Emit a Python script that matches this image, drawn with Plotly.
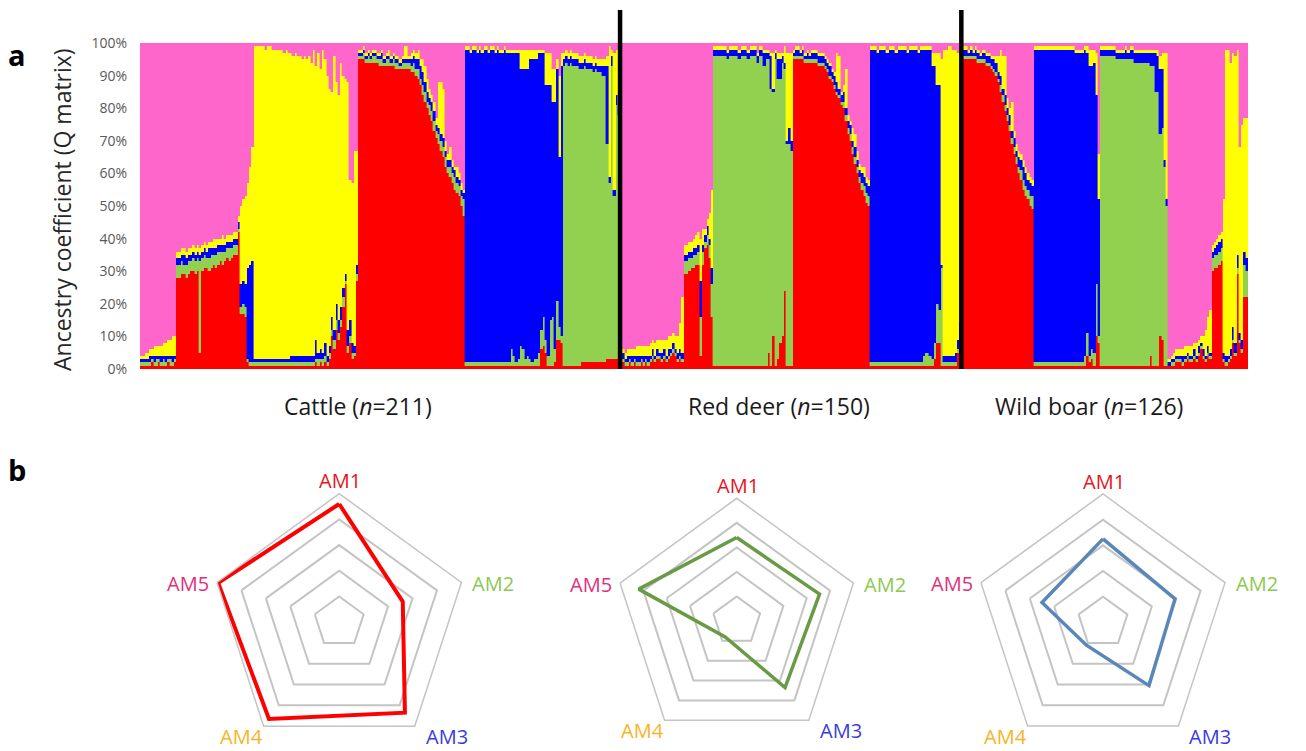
import numpy as np
import plotly.graph_objects as go

# ---------------- Panel a: ancestry coefficients (%) per individual ----------------
# Stack order from the bottom: AM1 (red), AM2 (green), AM3 (blue), AM4 (yellow);
# AM5 (pink) fills each bar up to 100 %.
groups = ["Cattle", "Red deer", "Wild boar"]
group_sizes = [211, 150, 126]

cattle_am1 = [
    1, 1, 1, 1, 1, 2, 1, 1, 2, 1, 1, 1, 2, 1, 1, 2,
    28, 28, 29, 29, 28, 29, 30, 30, 29, 30, 5, 30, 31, 31, 30, 31, 32, 31, 32, 33, 32, 33, 34, 33, 34, 35, 35,
    42, 17, 17, 16, 2, 1, 1,
    1, 1, 1, 1, 1, 1, 1, 1, 1, 1, 1, 1, 1, 1, 1, 1, 1, 1, 1, 1, 1, 1, 1, 1, 1, 1,
    1, 2, 1, 2, 1, 2, 1, 3, 10, 6, 12, 9, 13, 19, 26, 5, 8, 3, 4, 27,
    95, 95, 95, 94, 94, 94, 94, 94, 94, 93, 93, 93, 93, 93, 93, 93, 92, 92, 92, 92,
    92, 92, 92, 91, 91, 90, 89, 87, 84, 82, 80, 78, 76, 73, 71, 69, 67, 65, 62, 60,
    59, 57, 55, 54, 53, 50, 47,
    1, 1, 1, 1, 1, 1, 1, 1, 1, 1, 1, 1, 1, 1, 1, 1, 1, 1, 1, 1, 1, 1, 1, 1, 1, 1, 1, 1, 1, 1, 1, 1,
    1, 6, 7, 5, 1, 1, 1, 2, 9, 9, 8,
    1, 1, 1, 1, 1, 1, 1, 1, 2, 2, 2, 2, 2, 2, 2, 2, 2, 2, 2, 3, 3, 3, 3, 3, 26,
]
cattle_am2 = [
    1, 1, 1, 1, 1, 1, 1, 2, 1, 1, 2, 1, 1, 2, 1, 1,
    4, 4, 4, 3, 4, 4, 3, 4, 4, 4, 28, 4, 4, 3, 4, 4, 3, 4, 4, 3, 4, 3, 3, 4, 3, 3, 3,
    1, 2, 3, 3, 1, 1, 1,
    1, 1, 1, 1, 1, 1, 1, 1, 1, 1, 1, 1, 1, 1, 1, 1, 1, 1, 1, 1, 1, 1, 1, 1, 1, 1,
    1, 1, 2, 1, 2, 2, 1, 2, 2, 3, 3, 2, 2, 3, 1, 2, 2, 2, 1, 2,
    1, 1, 2, 1, 2, 1, 2, 2, 1, 2, 2, 1, 2, 2, 1, 2, 2, 2, 1, 2,
    2, 2, 2, 2, 3, 2, 3, 2, 3, 3, 2, 3, 3, 3, 2, 3, 3, 3, 3, 2,
    3, 3, 4, 3, 3, 3, 5,
    1, 1, 1, 1, 1, 1, 1, 1, 1, 1, 1, 1, 1, 1, 1, 1, 1, 1, 1, 1,
    5, 3, 1, 2, 6, 5, 2, 3, 2, 1, 2, 2, 4, 6, 9, 4, 3, 14, 15, 4, 12, 4, 2,
    92, 93, 92, 93, 92, 92, 92, 91, 90, 91, 90, 90, 90, 89, 90, 89, 89, 88, 88, 66, 54, 90, 50, 78, 52,
]
cattle_am3 = [
    1, 1, 1, 1, 2, 1, 2, 1, 1, 2, 1, 2, 1, 1, 2, 1,
    2, 2, 2, 3, 2, 2, 2, 2, 2, 2, 2, 2, 2, 2, 3, 2, 2, 2, 2, 2, 2, 2, 2, 2, 2, 2, 2,
    2, 7, 7, 7, 28, 30, 31,
    1, 1, 1, 1, 1, 1, 1, 1, 1, 1, 1, 1, 1, 1, 1, 1, 2, 2, 2, 2, 2, 2, 2, 2, 2, 2,
    2, 6, 2, 3, 2, 4, 2, 2, 4, 3, 5, 4, 4, 3, 2, 5, 5, 3, 2, 3,
    1, 1, 1, 1, 1, 1, 1, 1, 1, 1, 2, 1, 1, 1, 1, 1, 1, 1, 1, 1,
    1, 1, 1, 2, 2, 3, 3, 4, 4, 3, 3, 2, 3, 3, 2, 2, 2, 3, 2, 2,
    2, 2, 2, 2, 2, 2, 2,
    96, 96, 95, 96, 96, 95, 96, 95, 96, 96, 95, 96, 96, 95, 96, 95, 95, 96, 95, 95,
    91, 93, 95, 94, 85, 86, 89, 88, 92, 93, 92, 92, 92, 85, 81, 78, 83, 72, 66, 76, 71, 52, 83,
    2, 2, 2, 2, 2, 2, 2, 2, 2, 2, 2, 2, 2, 2, 2, 2, 2, 3, 3, 24, 2, 3, 2, 3, 3,
]
cattle_am4 = [
    1, 1, 2, 2, 2, 2, 3, 3, 3, 3, 4, 4, 5, 5, 6, 6,
    2, 2, 2, 2, 2, 2, 2, 2, 2, 2, 2, 2, 2, 2, 2, 2, 3, 3, 2, 2, 3, 2, 2, 2, 2, 2, 2,
    2, 24, 25, 27, 26, 30, 35,
    96, 96, 96, 96, 96, 95, 96, 96, 95, 95, 95, 95, 95, 94, 95, 94,
    93, 92, 93, 92, 92, 91, 92, 91, 92, 90,
    94, 84, 92, 86, 93, 87, 86, 79, 69, 84, 68, 69, 75, 65, 60, 76, 43, 49, 60, 35,
    1, 1, 1, 1, 1, 1, 1, 1, 1, 1, 1, 1, 1, 2, 1, 1, 1, 1, 1, 1,
    4, 4, 1, 2, 2, 2, 3, 2, 4, 5, 4, 3, 2, 3, 2, 14, 16, 15, 3, 2,
    4, 2, 1, 3, 2, 2, 1,
    1, 1, 1, 1, 1, 1, 1, 1, 1, 1, 1, 1, 1, 1, 1, 1, 1, 1, 1, 1, 1, 1, 1, 1,
    6, 6, 6, 6, 3, 3, 3, 3, 1, 1, 1, 10, 10, 10, 10, 10, 3, 25, 4,
    2, 2, 2, 2, 2, 2, 2, 2, 2, 2, 2, 2, 2, 2, 2, 2, 2, 2, 2, 3, 40, 2, 42, 14, 17,
]

deer_am1 = [
    1, 2, 1, 1, 2, 1, 2, 1, 1, 2, 1, 2, 1, 2, 3, 2, 3, 3, 2, 3, 2, 3, 4, 5, 4, 2, 3, 2,
    29, 29, 30, 31, 31, 32, 32, 4, 32, 37, 38, 34, 16,
    1, 1, 1, 1, 1, 1, 1, 1, 1, 1, 1, 1, 1, 1, 1, 1, 1, 1, 1, 1, 1, 1,
    1, 1, 5, 1, 10, 1, 3, 8, 10, 24, 1, 1, 1,
    95, 95, 95, 95, 95, 94, 94, 94, 94, 94, 94, 93, 93, 93, 92, 91, 89, 88, 86, 84,
    83, 81, 80, 76, 72, 70, 66, 63, 60, 57, 55, 53, 51, 50,
    1, 1, 1, 1, 1, 1, 1, 1, 1, 1, 1, 1, 1, 1, 1, 1, 1, 1, 1, 1, 1, 1, 1, 1, 1, 1, 1,
    1, 3, 8, 8,
    1, 1, 1, 1, 1, 1, 1, 5, 6,
]
deer_am2 = [
    1, 1, 1, 1, 1, 1, 1, 1, 1, 1, 1, 1, 1, 1, 1, 1, 1, 1, 1, 1, 1, 1, 1, 1, 1, 1, 1, 1,
    4, 4, 4, 3, 4, 3, 4, 12, 4, 2, 3, 4, 10,
    95, 95, 95, 95, 95, 95, 94, 95, 95, 95, 95, 94, 95, 95, 95, 94, 95, 95, 95, 93, 95, 95,
    92, 94, 90, 85, 75, 94, 86, 81, 84, 68, 68, 68, 66,
    1, 1, 1, 1, 1, 1, 1, 1, 1, 1, 1, 1, 1, 1, 1, 1, 1, 1, 1, 1, 1, 1,
    2, 2, 2, 2, 2, 2, 2, 2, 2, 3, 3, 3,
    1, 1, 1, 1, 1, 1, 1, 1, 1, 1, 1, 1, 1, 1, 1, 1, 1, 1, 1, 1, 1, 1, 1,
    3, 4, 4, 3, 2, 5, 12, 10,
    30, 1, 1, 1, 1, 1, 1, 1, 2,
]
deer_am3 = [
    1, 2, 1, 2, 1, 2, 1, 2, 2, 1, 2, 1, 2, 1, 2, 1, 2, 1, 2, 2, 1, 2, 1, 2, 1, 2, 2, 2,
    2, 2, 2, 2, 2, 2, 2, 11, 2, 2, 3, 2, 5,
    2, 2, 2, 2, 2, 2, 2, 2, 2, 2, 2, 2, 2, 2, 2, 2, 2, 2, 2, 2, 2, 2,
    4, 2, 2, 10, 1, 2, 6, 6, 2, 2, 1, 5, 3,
    1, 2, 2, 1, 2, 1, 2, 1, 2, 2, 2, 2, 2, 2, 2, 2, 3, 2, 3, 3,
    2, 2, 3, 2, 2, 3, 2, 3, 2, 2, 3, 3, 3, 3,
    96, 96, 96, 95, 96, 96, 96, 95, 96, 96, 96, 95, 96, 96, 96, 96, 95, 96, 96, 96,
    96, 95, 96, 94, 93, 93, 94, 90, 85, 67, 69,
    1, 2, 2, 2, 2, 2, 3, 3, 6,
]
deer_am4 = [
    2, 1, 2, 2, 2, 2, 2, 3, 3, 3, 3, 3, 3, 4, 3, 4, 3, 4, 4, 3, 5, 4, 4, 3, 4, 5, 8, 17,
    3, 3, 3, 3, 3, 4, 4, 13, 5, 2, 2, 8, 24,
    1, 1, 1, 1, 1, 1, 1, 1, 1, 1, 1, 1, 1, 1, 1, 1, 1, 1, 1, 1, 1, 1,
    1, 1, 1, 1, 11, 1, 2, 2, 1, 5, 27, 23, 27,
    1, 1, 1, 1, 1, 1, 1, 1, 1, 1, 1, 1, 1, 1, 1, 1, 1, 1, 1, 9,
    10, 1, 2, 12, 2, 1, 4, 4, 3, 2, 2, 3, 2, 2,
    1, 1, 1, 1, 1, 1, 1, 1, 1, 1, 1, 1, 1, 1, 1, 1, 1, 1, 1, 1, 1, 1, 1, 1, 1, 1, 1,
    4, 4, 10, 10,
    63, 94, 94, 95, 95, 94, 93, 88, 84,
]

boar_am1 = [
    95, 95, 95, 95, 95, 95, 95, 94, 94, 94, 94, 93, 93, 92, 91, 90, 88, 85, 82, 79,
    76, 73, 69, 66, 63, 60, 58, 55, 53, 52, 50, 49,
    1, 1, 1, 1, 1, 1, 1, 1, 1, 1, 1, 1, 1, 1, 1, 1, 1, 1, 1, 1, 1, 1,
    1, 4, 2, 3, 1, 10, 8,
    1, 1, 1, 1, 1, 1, 1, 1, 1, 1, 1, 1, 1, 1, 1, 1, 1, 1, 1, 1, 1, 1,
    4, 1, 1, 1, 10, 9, 1, 1,
    1, 1, 1, 2, 2, 2, 1, 2, 3, 2, 2, 3, 2, 4, 6, 3, 2, 4, 3, 30, 31, 31, 32, 33,
    2, 1, 2, 3, 8, 4, 29, 8, 5, 22, 22,
]
boar_am2 = [
    1, 1, 1, 1, 1, 1, 1, 1, 1, 1, 1, 1, 1, 1, 1, 1, 1, 2, 2, 2,
    2, 2, 2, 2, 2, 2, 3, 3, 3, 3, 3, 4,
    1, 1, 1, 1, 1, 1, 1, 1, 1, 1, 1, 1, 1, 1, 1, 1, 1, 1, 1, 1, 1, 1,
    3, 7, 2, 3, 4, 16, 2,
    95, 95, 95, 95, 95, 95, 95, 94, 94, 94, 94, 94, 94, 94, 94, 93, 93, 93, 93, 93, 93, 93,
    89, 92, 84, 84, 62, 65, 61, 49,
    0, 1, 1, 1, 1, 1, 1, 1, 1, 1, 1, 1, 1, 1, 1, 1, 1, 1, 1, 4, 4, 4, 4, 4,
    1, 1, 1, 1, 1, 1, 2, 1, 1, 10, 8,
]
boar_am3 = [
    2, 2, 2, 1, 2, 1, 2, 2, 1, 2, 2, 2, 2, 2, 3, 3, 2, 3, 2, 3,
    2, 3, 2, 3, 2, 3, 3, 4, 4, 3, 4, 3,
    96, 96, 96, 96, 96, 96, 96, 96, 96, 96, 96, 96, 96, 96, 96, 96, 96, 96, 95, 95, 95, 95,
    94, 86, 89, 87, 89, 58, 42,
    2, 2, 2, 2, 2, 2, 2, 2, 2, 2, 2, 3, 2, 3, 3, 3, 3, 3, 3, 3, 3, 3,
    4, 4, 12, 11, 20, 18, 2, 2,
    1, 1, 1, 1, 1, 1, 2, 1, 1, 1, 1, 2, 1, 2, 1, 2, 1, 2, 1, 2, 2, 3, 3, 3,
    2, 2, 1, 2, 4, 3, 4, 2, 3, 4, 4,
]
boar_am4 = [
    1, 1, 1, 1, 1, 1, 1, 1, 1, 1, 1, 1, 1, 1, 1, 2, 5, 8, 10, 12,
    3, 2, 9, 2, 2, 2, 2, 2, 2, 2, 2, 2,
    1, 1, 1, 1, 1, 1, 1, 1, 1, 1, 1, 1, 1, 1, 1, 1, 1, 1, 1, 1, 1, 1,
    1, 2, 5, 5, 4, 13, 14,
    1, 1, 1, 1, 1, 1, 1, 1, 1, 1, 1, 1, 1, 1, 1, 1, 1, 1, 1, 1, 1, 1,
    1, 1, 1, 2, 4, 5, 33, 45,
    1, 1, 2, 2, 2, 2, 2, 3, 2, 3, 3, 2, 4, 2, 2, 4, 8, 9, 13, 2, 2, 2, 2, 2,
    47, 94, 94, 88, 84, 88, 63, 57, 66, 41, 43,
]

# ---------------- Panel b: mean ancestry profile per host (relative scale) ----------------
radar_axes = ["AM1", "AM2", "AM3", "AM4", "AM5"]
radar_cattle = [0.92, 0.52, 0.87, 0.93, 0.99]
radar_deer = [0.68, 0.71, 0.67, 0.16, 0.84]
radar_boar = [0.65, 0.59, 0.61, 0.22, 0.50]

# ---------------- styling ----------------
W, H = 1306, 751
FONT = "Open Sans"
comp_names = ["AM1", "AM2", "AM3", "AM4", "AM5"]
comp_colors = ["#FF0000", "#92D050", "#0000FF", "#FFFF00", "#FF66CC"]
label_colors = ["#E8141E", "#8DC850", "#3B3BDB", "#F5B526", "#E2307B"]
radar_line_colors = ["#FF0000", "#6B9A47", "#5B87B8"]

species_data = {
    "Cattle": [cattle_am1, cattle_am2, cattle_am3, cattle_am4],
    "Red deer": [deer_am1, deer_am2, deer_am3, deer_am4],
    "Wild boar": [boar_am1, boar_am2, boar_am3, boar_am4],
}
for name, n in zip(groups, group_sizes):
    for k, comp in enumerate(species_data[name]):
        assert len(comp) == n, f"{name} component {k + 1}: {len(comp)} values, expected {n}"

q = np.array([np.concatenate([np.array(species_data[g][k], float) for g in groups]) for k in range(4)])
q_am5 = np.clip(100.0 - q.sum(axis=0), 0, None)
q = np.vstack([q, q_am5])
n_total = q.shape[1]
idx = np.arange(n_total)


def px_x(p):
    return p / W


def px_y(p):
    return 1 - p / H


fig = go.Figure()
for k in range(5):
    fig.add_trace(go.Bar(
        x=idx, y=q[k], width=1.0, name=comp_names[k],
        marker=dict(color=comp_colors[k], line=dict(color=comp_colors[k], width=0.4)),
        showlegend=False, hovertemplate=comp_names[k] + ": %{y:.0f}%<extra></extra>",
    ))

# plot area of panel a in pixels
a_left, a_right, a_top, a_bottom = 140, 1248, 43, 369

fig.update_layout(
    width=W, height=H, margin=dict(l=0, r=0, t=0, b=0, autoexpand=False),
    paper_bgcolor="white", plot_bgcolor="white",
    barmode="stack", bargap=0, font=dict(family=FONT),
    xaxis=dict(domain=[px_x(a_left), px_x(a_right)], range=[-0.5, n_total - 0.5], automargin=False,
               showticklabels=False, showgrid=False, zeroline=False, showline=False, ticks=""),
    yaxis=dict(domain=[px_y(a_bottom), px_y(a_top)], range=[0, 100], dtick=10, ticksuffix="%",
               automargin=False, showgrid=False, zeroline=False, showline=False, ticks="",
               ticklabelstandoff=12, tickfont=dict(family=FONT, size=14, color="#595959")),
)

# separators between host species
bounds = np.cumsum(group_sizes)[:-1] - 0.5
for b in bounds:
    fig.add_shape(type="line", xref="x", yref="paper", x0=b, x1=b,
                  y0=px_y(a_bottom), y1=px_y(10), line=dict(color="black", width=4.5), layer="above")

# species labels under panel a
label_pos = [95.4, 280.4, 416.7]
for g, n, xp in zip(groups, group_sizes, label_pos):
    fig.add_annotation(x=xp, xref="x", y=px_y(406), yref="paper", showarrow=False,
                       xanchor="center", yanchor="middle",
                       text=f"{g} (<i>n</i>={n})", font=dict(family=FONT, size=23, color="#1a1a1a"))

fig.add_annotation(x=px_x(62), y=px_y((a_top + a_bottom) / 2 + 4), xref="paper", yref="paper",
                   xanchor="center", yanchor="middle",
                   text="Ancestry coefficient (Q matrix)", textangle=-90, showarrow=False,
                   font=dict(family=FONT, size=23, color="#262626"))
fig.add_annotation(x=px_x(17), y=px_y(55), xref="paper", yref="paper", text="<b>a</b>",
                   xanchor="center", yanchor="middle",
                   showarrow=False, font=dict(family=FONT, size=29, color="black"))
fig.add_annotation(x=px_x(17), y=px_y(470), xref="paper", yref="paper", text="<b>b</b>",
                   xanchor="center", yanchor="middle",
                   showarrow=False, font=dict(family=FONT, size=29, color="black"))

# ---------------- radar charts ----------------
radar_sets = [radar_cattle, radar_deer, radar_boar]
# (centre x, centre y, radius) in pixels
radar_geom = [(339.2, 622.2, 128.5), (736.7, 621.0, 122.7), (1103.0, 622.3, 128.3)]
# label offset from the outer vertex (pixels) and horizontal anchor, per axis
label_offsets = [(1, -13, "center"), (10, 1, "left"), (10, 10, "left"), (0, 10, "right"), (-7, 1, "right")]

for n, (vals, (cx, cy, r), lc) in enumerate(zip(radar_sets, radar_geom, radar_line_colors), start=1):
    key = "polar" if n == 1 else f"polar{n}"
    fig.add_trace(go.Scatterpolar(
        r=vals + vals[:1], theta=radar_axes + radar_axes[:1], mode="lines",
        line=dict(color=lc, width=4 if n == 1 else 3.5), subplot=key, showlegend=False,
    ))
    fig.update_layout(**{key: dict(
        domain=dict(x=[px_x(cx - r), px_x(cx + r)], y=[max(0, (H - cy - r) / H), (H - cy + r) / H]),
        bgcolor="rgba(0,0,0,0)", gridshape="linear",
        radialaxis=dict(range=[0, 1], dtick=0.2, showticklabels=False, ticks="", showline=False,
                        gridcolor="#C4C4C4", gridwidth=1.5),
        angularaxis=dict(direction="clockwise", rotation=90, showgrid=False, showline=True,
                         linecolor="#C4C4C4", linewidth=1.5, ticks="", showticklabels=False,
                         categoryorder="array", categoryarray=radar_axes),
    )})
    # coloured axis names just outside the outer pentagon
    for k, (name, col, (ox, oy, anchor)) in enumerate(zip(radar_axes, label_colors, label_offsets)):
        ang = np.deg2rad(90 - 72 * k)
        vx, vy = cx + r * np.cos(ang), cy - r * np.sin(ang)
        fig.add_annotation(x=px_x(vx + ox), y=px_y(vy + oy), xref="paper", yref="paper",
                           text=name, showarrow=False, xanchor=anchor, yanchor="middle", borderpad=0,
                           font=dict(family=FONT, size=20, color=col))

fig.write_html("out.html")
